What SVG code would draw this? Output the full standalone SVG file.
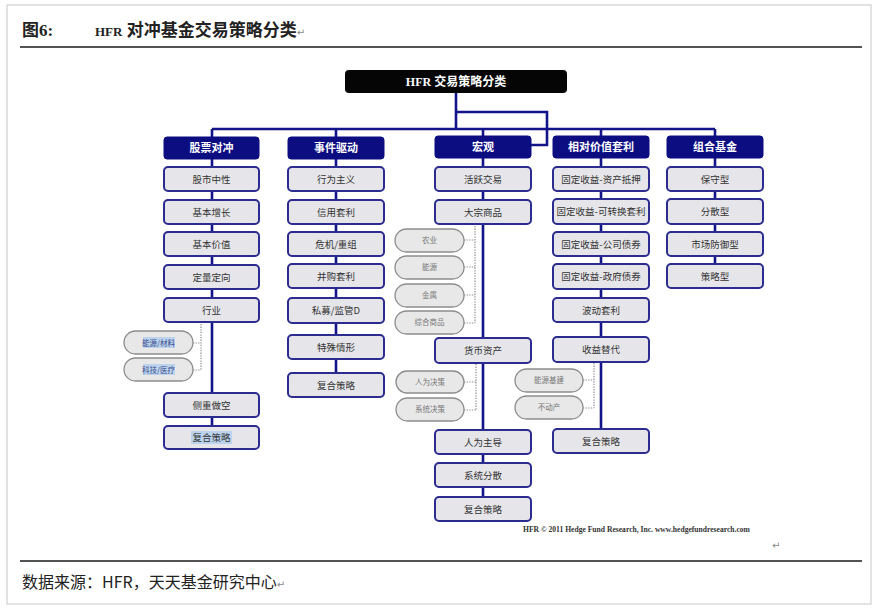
<svg xmlns="http://www.w3.org/2000/svg" width="878" height="611" viewBox="0 0 878 611">
<style>
.frame{fill:#fff;stroke:#d0d0d0;stroke-width:1.2}
.rule{stroke:#1a1a1a;stroke-width:1.4}
.title{font-family:"Liberation Serif","Noto Sans CJK SC",serif;font-weight:bold;font-size:17px;fill:#222}
.src{font-family:"Noto Sans CJK SC",sans-serif;font-size:16px;fill:#222}
.pm{font-family:"DejaVu Sans",sans-serif;font-size:10px;fill:#888}
.link{fill:none;stroke:#14148a;stroke-width:2.6}
.dot{fill:none;stroke:#8a8a8a;stroke-width:1.2;stroke-dasharray:1.3 1.3}
.top rect{fill:#050505}
.top text{font-family:"Liberation Serif","Noto Sans CJK SC",serif;font-weight:bold;font-size:12px;fill:#fff;text-anchor:middle}
.hd rect{fill:#0d0d82;stroke:#0d0d82;stroke-width:1}
.hd text{font-family:"Noto Sans CJK SC",sans-serif;font-weight:bold;font-size:11px;fill:#fff;text-anchor:middle}
.bx rect{fill:#e6e6ea;stroke:#2b2b90;stroke-width:2}
.bx text{font-family:"Noto Sans CJK SC",sans-serif;font-size:9.5px;fill:#333;text-anchor:middle}
.pl rect{fill:#e8e8e8;stroke:#8c8c8c;stroke-width:1.3}
.pl text{font-family:"Noto Sans CJK SC",sans-serif;font-size:7.5px;fill:#777;text-anchor:middle}
g rect.hl{fill:#bcd3ee;stroke:none}
.cr{font-family:"Liberation Serif",serif;font-weight:bold;font-size:7.6px;fill:#333}
</style>
<rect class="frame" x="7" y="5" width="864" height="599"/>
<text class="title" x="22" y="36">图6:</text>
<text class="title" x="95" y="36"><tspan font-size="13">HFR</tspan> 对冲基金交易策略分类<tspan class="pm" font-weight="normal">↵</tspan></text>
<line class="rule" x1="20" y1="47" x2="862" y2="47"/>
<line class="rule" x1="20" y1="561" x2="862" y2="561"/>
<text class="src" x="22" y="588">数据来源：HFR，天天基金研究中心<tspan class="pm">↵</tspan></text>
<text class="cr" x="523" y="532">HFR © 2011 Hedge Fund Research, Inc.  www.hedgefundresearch.com</text>
<text class="pm" x="772" y="549">↵</text>

<g id="connectors">
<path class="link" d="M456 93V129M212 129H715M212 129V138M336 129V137M483 129V137M601 129V137M715 129V137"/>
<path class="link" d="M456 112H547V145H531"/>
<path class="link" d="M212 159V437"/>
<path class="link" d="M336 159V385"/>
<path class="link" d="M483 157V509"/>
<path class="link" d="M601 158V441"/>
<path class="link" d="M715 158V276"/>
<path class="dot" d="M201 324V370M193 343H201M193 370H201"/>
<path class="dot" d="M475 226V323M464 240H475M464 267H475M464 295H475M464 323H475"/>
<path class="dot" d="M476 364V410M464 382H476M464 410H476"/>
<path class="dot" d="M594 363V408M583 380H594M583 408H594"/>
</g>

<g id="root" class="top"><rect x="345" y="70" width="222" height="23" rx="4"/><text x="456" y="86">HFR 交易策略分类</text></g>

<g id="col1">
<g id="eh" class="hd"><rect x="164" y="137" width="95" height="22" rx="3"/><text x="211.5" y="152">股票对冲</text></g>
<g id="eh1" class="bx"><rect x="164" y="167" width="95" height="24" rx="4"/><text x="211.5" y="182.5">股市中性</text></g>
<g id="eh2" class="bx"><rect x="164" y="200" width="95" height="24" rx="4"/><text x="211.5" y="215.5">基本增长</text></g>
<g id="eh3" class="bx"><rect x="164" y="232" width="95" height="24" rx="4"/><text x="211.5" y="247.5">基本价值</text></g>
<g id="eh4" class="bx"><rect x="164" y="265" width="95" height="24" rx="4"/><text x="211.5" y="280.5">定量定向</text></g>
<g id="eh5" class="bx"><rect x="164" y="298" width="95" height="24" rx="4"/><text x="211.5" y="313.5">行业</text></g>
<g id="eh5a" class="pl"><rect x="124" y="331" width="69" height="23" rx="11.5"/><rect class="hl" x="143" y="337" width="32" height="11"/><text x="158.5" y="345.5" fill="#3a4a8a" style="fill:#3a4a8a">能源/材料</text></g>
<g id="eh5b" class="pl"><rect x="124" y="358" width="69" height="23" rx="11.5"/><rect class="hl" x="143" y="364" width="32" height="11"/><text x="158.5" y="372.5" style="fill:#3a4a8a">科技/医疗</text></g>
<g id="eh6" class="bx"><rect x="164" y="393" width="95" height="24" rx="4"/><text x="211.5" y="408.5">侧重做空</text></g>
<g id="eh7" class="bx"><rect x="164" y="426" width="95" height="23" rx="4"/><rect class="hl" x="191" y="431" width="41" height="13"/><text x="211.5" y="441">复合策略</text></g>
</g>

<g id="col2">
<g id="ed" class="hd"><rect x="288" y="137" width="96" height="22" rx="3"/><text x="336" y="152">事件驱动</text></g>
<g id="ed1" class="bx"><rect x="288" y="167" width="96" height="24" rx="4"/><text x="336" y="182.5">行为主义</text></g>
<g id="ed2" class="bx"><rect x="288" y="200" width="96" height="24" rx="4"/><text x="336" y="215.5">信用套利</text></g>
<g id="ed3" class="bx"><rect x="288" y="232" width="96" height="24" rx="4"/><text x="336" y="247.5">危机/重组</text></g>
<g id="ed4" class="bx"><rect x="288" y="264" width="96" height="24" rx="4"/><text x="336" y="279.5">并购套利</text></g>
<g id="ed5" class="bx"><rect x="288" y="298" width="96" height="25" rx="4"/><text x="336" y="314">私募/监管D</text></g>
<g id="ed6" class="bx"><rect x="288" y="335" width="96" height="24" rx="4"/><text x="336" y="350.5">特殊情形</text></g>
<g id="ed7" class="bx"><rect x="288" y="373" width="96" height="24" rx="4"/><text x="336" y="388.5">复合策略</text></g>
</g>

<g id="col3">
<g id="ma" class="hd"><rect x="435" y="136" width="96" height="22" rx="3"/><text x="483" y="151">宏观</text></g>
<g id="ma1" class="bx"><rect x="435" y="167" width="96" height="24" rx="4"/><text x="483" y="182.5">活跃交易</text></g>
<g id="ma2" class="bx"><rect x="435" y="200" width="96" height="24" rx="4"/><text x="483" y="215.5">大宗商品</text></g>
<g id="ma2a" class="pl"><rect x="395" y="229" width="69" height="23" rx="11.5"/><text x="429.5" y="243">农业</text></g>
<g id="ma2b" class="pl"><rect x="395" y="256" width="69" height="23" rx="11.5"/><text x="429.5" y="270">能源</text></g>
<g id="ma2c" class="pl"><rect x="395" y="284" width="69" height="23" rx="11.5"/><text x="429.5" y="298">金属</text></g>
<g id="ma2d" class="pl"><rect x="395" y="311" width="69" height="23" rx="11.5"/><text x="429.5" y="325">综合商品</text></g>
<g id="ma3" class="bx"><rect x="435" y="338" width="96" height="25" rx="4"/><text x="483" y="354">货币资产</text></g>
<g id="ma3a" class="pl"><rect x="396" y="371" width="68" height="22" rx="11"/><text x="430" y="385">人为决策</text></g>
<g id="ma3b" class="pl"><rect x="396" y="398" width="68" height="23" rx="11.5"/><text x="430" y="412">系统决策</text></g>
<g id="ma4" class="bx"><rect x="435" y="430" width="96" height="24" rx="4"/><text x="483" y="445.5">人为主导</text></g>
<g id="ma5" class="bx"><rect x="435" y="463" width="96" height="24" rx="4"/><text x="483" y="478.5">系统分散</text></g>
<g id="ma6" class="bx"><rect x="435" y="497" width="96" height="24" rx="4"/><text x="483" y="512.5">复合策略</text></g>
</g>

<g id="col4">
<g id="rv" class="hd"><rect x="553" y="136" width="96" height="22" rx="3"/><text x="601" y="151">相对价值套利</text></g>
<g id="rv1" class="bx"><rect x="553" y="167" width="96" height="24" rx="4"/><text x="601" y="182.5">固定收益-资产抵押</text></g>
<g id="rv2" class="bx"><rect x="553" y="199" width="96" height="25" rx="4"/><text x="601" y="215">固定收益-可转换套利</text></g>
<g id="rv3" class="bx"><rect x="553" y="232" width="96" height="24" rx="4"/><text x="601" y="247.5">固定收益-公司债券</text></g>
<g id="rv4" class="bx"><rect x="553" y="264" width="96" height="25" rx="4"/><text x="601" y="280">固定收益-政府债券</text></g>
<g id="rv5" class="bx"><rect x="553" y="298" width="96" height="24" rx="4"/><text x="601" y="313.5">波动套利</text></g>
<g id="rv6" class="bx"><rect x="553" y="337" width="96" height="25" rx="4"/><text x="601" y="353">收益替代</text></g>
<g id="rv6a" class="pl"><rect x="515" y="369" width="68" height="23" rx="11.5"/><text x="549" y="383">能源基建</text></g>
<g id="rv6b" class="pl"><rect x="515" y="396" width="68" height="23" rx="11.5"/><text x="549" y="410">不动产</text></g>
<g id="rv7" class="bx"><rect x="553" y="429" width="96" height="24" rx="4"/><text x="601" y="444.5">复合策略</text></g>
</g>

<g id="col5">
<g id="ff" class="hd"><rect x="667" y="136" width="96" height="22" rx="3"/><text x="715" y="151">组合基金</text></g>
<g id="ff1" class="bx"><rect x="667" y="167" width="96" height="24" rx="4"/><text x="715" y="182.5">保守型</text></g>
<g id="ff2" class="bx"><rect x="667" y="199" width="96" height="25" rx="4"/><text x="715" y="215">分散型</text></g>
<g id="ff3" class="bx"><rect x="667" y="232" width="96" height="24" rx="4"/><text x="715" y="247.5">市场防御型</text></g>
<g id="ff4" class="bx"><rect x="667" y="264" width="96" height="24" rx="4"/><text x="715" y="279.5">策略型</text></g>
</g>
</svg>
